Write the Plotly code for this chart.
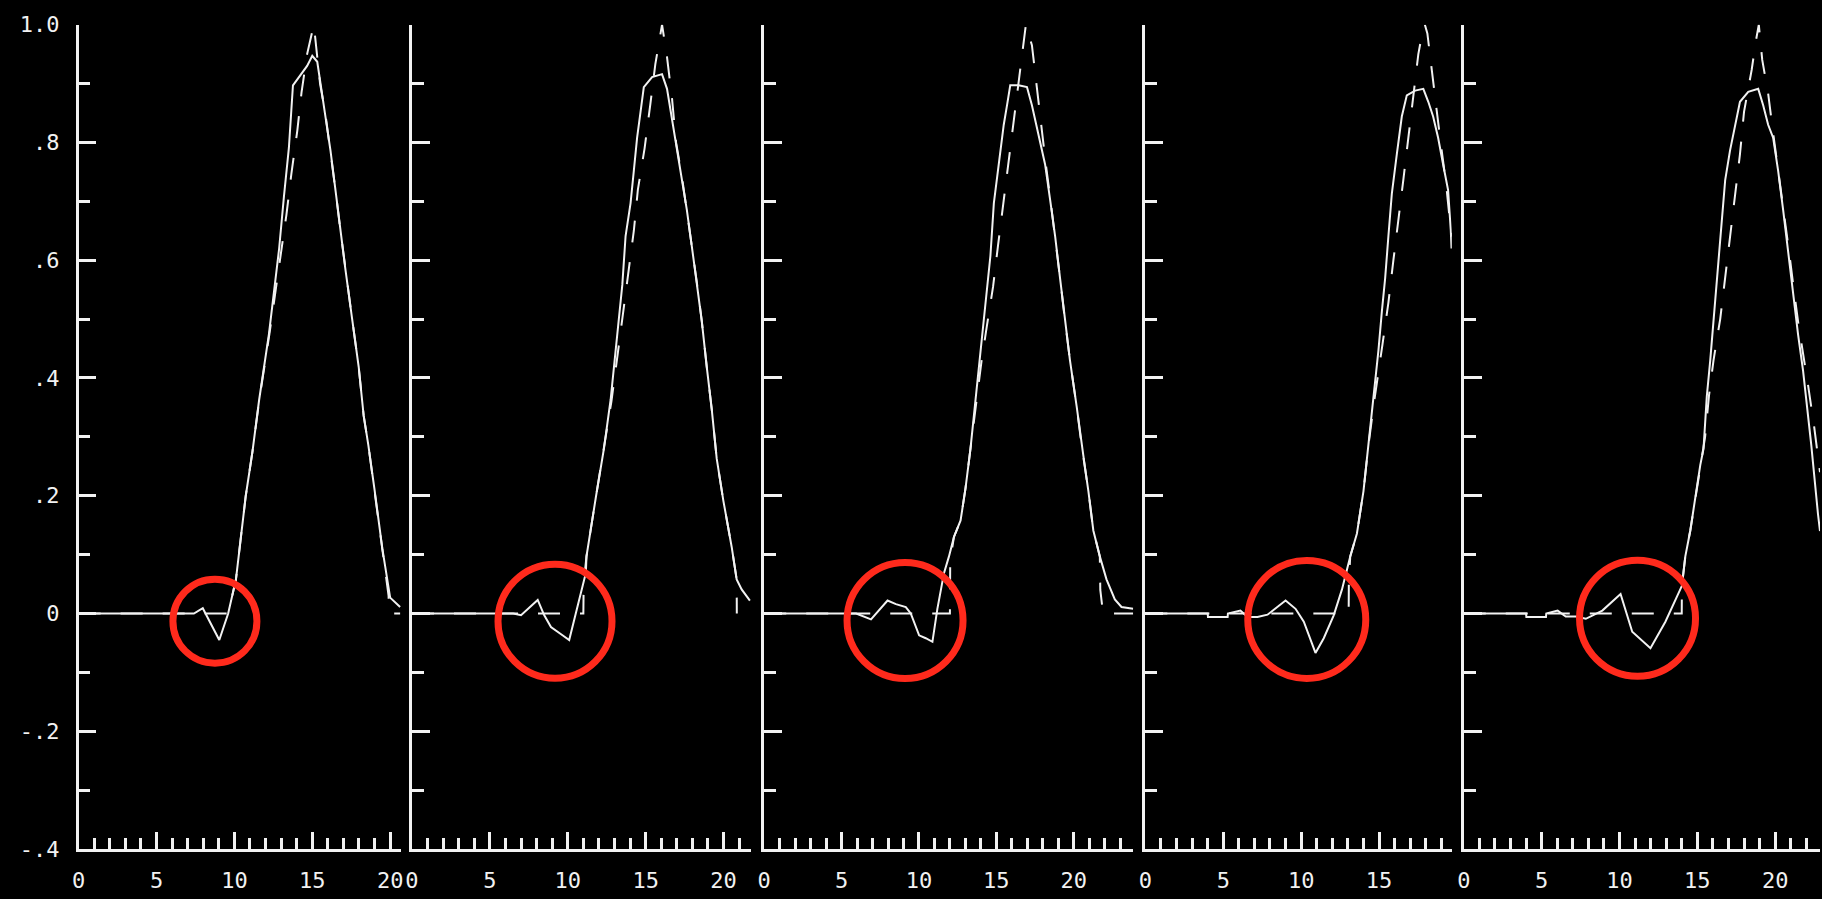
import plotly.graph_objects as go

# ---------------- data ----------------
x_tick_vals = [0, 5, 10, 15, 20]
x_tick_text = ["0", "5", "10", "15", "20"]
y_tick_vals = [1.0, 0.8, 0.6, 0.4, 0.2, 0.0, -0.2, -0.4]
y_tick_text = ["1.0", ".8", ".6", ".4", ".2", "0", "-.2", "-.4"]
x_extent = [20.70, 21.78, 23.86, 19.67, 22.88]

p1_solid_x = [0, 7.0, 7.4, 7.97, 9.03, 9.6, 10.1, 10.42, 10.73, 11.16, 11.59, 12.22, 12.55, 12.87, 13.18,
              13.5, 13.76, 14.14, 14.67, 15.0, 15.32, 15.53, 15.85, 16.17, 16.49, 16.8, 17.12, 17.55,
              17.98, 18.3, 18.6, 19.0, 19.5, 20.0, 20.64]
p1_solid_y = [0, 0, 0.0, 0.009, -0.045, 0.0, 0.058, 0.13, 0.20, 0.275, 0.363, 0.475, 0.547, 0.619, 0.708,
              0.791, 0.897, 0.911, 0.93, 0.947, 0.937, 0.9, 0.847, 0.786, 0.719, 0.652, 0.586, 0.502,
              0.419, 0.336, 0.286, 0.21, 0.11, 0.027, 0.011]
p1_ref_x = [0, 9.6, 10.1, 10.42, 10.73, 11.16, 11.6, 12.25, 12.7, 13.0, 13.34, 13.66, 14.04, 14.31, 14.67,
            15.1, 15.25, 15.5, 15.85, 16.17, 16.49, 16.8, 17.12, 17.55, 17.98, 18.3, 18.6, 19.0, 19.5,
            19.9, 19.92, 20.64]
p1_ref_y = [0, 0, 0.058, 0.13, 0.20, 0.275, 0.363, 0.475, 0.56, 0.62, 0.677, 0.747, 0.82, 0.885, 0.95,
            1.0, 0.96, 0.9, 0.847, 0.786, 0.719, 0.652, 0.586, 0.502, 0.419, 0.336, 0.286, 0.21, 0.11,
            0.03, 0.0, 0.0]

p2_solid_x = [0, 6.5, 7.0, 8.07, 8.49, 8.92, 9.66, 10.09, 11.16, 11.2, 11.8, 12.32, 12.75, 13.17, 13.5,
              13.71, 14.03, 14.24, 14.45, 14.67, 14.88, 15.41, 16.05, 16.37, 16.58, 16.9, 17.33, 17.64,
              17.96, 18.28, 18.6, 18.92, 19.24, 19.56, 19.99, 20.52, 20.84, 21.16, 21.69]
p2_solid_y = [0, 0, -0.003, 0.023, -0.003, -0.023, -0.037, -0.045, 0.069, 0.097, 0.197, 0.28, 0.363, 0.474,
              0.558, 0.641, 0.697, 0.752, 0.808, 0.852, 0.894, 0.911, 0.916, 0.891, 0.858, 0.808, 0.741,
              0.686, 0.624, 0.563, 0.497, 0.419, 0.347, 0.263, 0.191, 0.113, 0.058, 0.041, 0.022]
p2_ref_x = [0, 11.0, 11.02, 11.2, 11.8, 12.32, 12.8, 13.3, 13.92, 14.24, 14.5, 14.93, 15.3, 15.62, 16.05,
            16.37, 16.69, 16.95, 17.33, 17.64, 17.96, 18.28, 18.6, 18.92, 19.24, 19.56, 19.99, 20.52,
            20.84, 20.85]
p2_ref_y = [0, 0, 0.05, 0.097, 0.197, 0.28, 0.36, 0.46, 0.58, 0.65, 0.72, 0.79, 0.865, 0.933, 1.0,
            0.945, 0.875, 0.8, 0.741, 0.686, 0.624, 0.563, 0.497, 0.419, 0.347, 0.263, 0.191, 0.113,
            0.058, 0.0]

p3_solid_x = [0, 5.94, 6.9, 7.97, 8.51, 9.15, 9.47, 10.01, 10.44, 10.87, 11.19, 11.62, 11.94, 12.26,
              12.69, 13.01, 13.33, 13.65, 13.97, 14.3, 14.62, 14.84, 15.16, 15.48, 15.69, 15.9, 16.44,
              16.98, 17.3, 17.73, 18.15, 18.48, 18.8, 19.12, 19.44, 19.76, 20.19, 20.51, 20.62, 20.95,
              21.27, 21.69, 22.12, 22.66, 23.09, 23.84]
p3_solid_y = [0, 0, -0.01, 0.022, 0.016, 0.011, 0.0, -0.037, -0.042, -0.048, 0.008, 0.069, 0.097, 0.13,
              0.158, 0.213, 0.28, 0.363, 0.436, 0.53, 0.608, 0.697, 0.763, 0.83, 0.863, 0.897, 0.897,
              0.894, 0.863, 0.813, 0.763, 0.702, 0.641, 0.569, 0.497, 0.43, 0.352, 0.286, 0.269, 0.208,
              0.141, 0.097, 0.058, 0.024, 0.011, 0.008]
p3_ref_x = [0, 12.0, 12.02, 12.26, 12.69, 13.01, 13.33, 13.7, 14.05, 14.4, 14.79, 15.11, 15.44, 15.77,
            16.12, 16.44, 16.7, 16.91, 17.3, 17.56, 17.88, 18.2, 18.5, 18.8, 19.12, 19.44, 19.76, 20.19,
            20.51, 20.95, 21.27, 21.69, 21.72, 21.9, 23.84]
p3_ref_y = [0, 0, 0.09, 0.13, 0.158, 0.213, 0.28, 0.36, 0.43, 0.49, 0.555, 0.625, 0.694, 0.766,
            0.84, 0.91, 0.965, 1.0, 0.965, 0.904, 0.83, 0.763, 0.702, 0.641, 0.569, 0.497, 0.43, 0.352,
            0.286, 0.208, 0.141, 0.097, 0.04, 0.0, 0.0]

p4_solid_x = [0, 4.0, 4.02, 5.28, 5.3, 6.1, 6.56, 7.2, 7.84, 9.0, 9.64, 10.17, 10.92, 11.45, 12.09,
              12.62, 13.15, 13.58, 14.0, 14.32, 14.64, 14.96, 15.18, 15.39, 15.6, 15.82, 16.14, 16.46,
              16.78, 17.31, 17.84, 18.16, 18.47, 18.79, 19.11, 19.43, 19.6, 19.65]
p4_solid_y = [0, 0, -0.006, -0.006, 0, 0.005, -0.006, -0.006, -0.002, 0.022, 0.008, -0.014, -0.067,
              -0.042, -0.003, 0.041, 0.097, 0.136, 0.208, 0.286, 0.363, 0.447, 0.513, 0.569, 0.641,
              0.713, 0.78, 0.844, 0.88, 0.888, 0.891, 0.869, 0.844, 0.808, 0.763, 0.719, 0.652, 0.62]
p4_ref_x = [0, 13.05, 13.06, 13.15, 13.58, 14.0, 14.32, 14.7, 15.22, 15.6, 15.92, 16.24, 16.56, 16.88,
            17.2, 17.52, 17.8, 17.94, 18.1, 18.37, 18.69, 19.0, 19.3, 19.65]
p4_ref_y = [0, 0, 0.053, 0.097, 0.136, 0.208, 0.286, 0.363, 0.457, 0.528, 0.6, 0.666, 0.737, 0.808,
            0.88, 0.95, 0.99, 1.0, 0.985, 0.93, 0.856, 0.79, 0.73, 0.64]

p5_solid_x = [0, 4.0, 4.02, 5.28, 5.3, 6.03, 6.55, 7.2, 7.84, 8.9, 10.07, 10.82, 11.99, 12.95, 14.01,
              14.23, 14.55, 14.87, 15.19, 15.4, 15.61, 15.83, 16.15, 16.36, 16.57, 16.79, 17.1, 17.43,
              17.74, 18.27, 18.91, 19.23, 19.55, 19.87, 20.19, 20.51, 20.83, 21.15, 21.47, 21.79, 22.11,
              22.32, 22.75, 22.88]
p5_solid_y = [0, 0, -0.006, -0.006, 0, 0.005, -0.005, -0.005, -0.009, 0.005, 0.033, -0.031, -0.059,
              -0.014, 0.047, 0.097, 0.141, 0.197, 0.252, 0.28, 0.369, 0.43, 0.53, 0.608, 0.663, 0.736,
              0.786, 0.83, 0.869, 0.886, 0.891, 0.863, 0.83, 0.808, 0.752, 0.686, 0.613, 0.541, 0.474,
              0.413, 0.341, 0.286, 0.169, 0.14]
p5_ref_x = [0, 14.0, 14.01, 14.23, 14.55, 14.87, 15.19, 15.5, 15.75, 16.04, 16.47, 16.79, 17.1, 17.42,
            17.74, 18.0, 18.49, 18.78, 18.95, 19.17, 19.55, 19.87, 20.2, 20.55, 20.9, 21.2, 21.5, 22.1,
            22.5, 22.88]
p5_ref_y = [0, 0, 0.047, 0.097, 0.141, 0.197, 0.252, 0.3, 0.37, 0.43, 0.5, 0.573, 0.642, 0.71, 0.78,
            0.852, 0.923, 0.975, 1.0, 0.94, 0.883, 0.816, 0.752, 0.686, 0.613, 0.55, 0.49, 0.39, 0.318,
            0.24]

# highlighted regions (red circles), data coordinates of centres
circle_x = [8.75, 9.18, 9.1, 10.36, 11.16]
circle_y = [-0.013, -0.013, -0.012, -0.01, -0.008]

solids = [(p1_solid_x, p1_solid_y), (p2_solid_x, p2_solid_y), (p3_solid_x, p3_solid_y),
          (p4_solid_x, p4_solid_y), (p5_solid_x, p5_solid_y)]
refs = [(p1_ref_x, p1_ref_y), (p2_ref_x, p2_ref_y), (p3_ref_x, p3_ref_y),
        (p4_ref_x, p4_ref_y), (p5_ref_x, p5_ref_y)]

# ---------------- layout geometry ----------------
W, H = 1822, 899
panel_px = [(72, 396), (407, 748), (761, 1132), (1144, 1452), (1464, 1822)]
y_top_px, y_bot_px = 13, 861
circle_r = [42, 57, 58, 59, 58]

WHITE = "#f2f2f2"
RED = "rgb(255,42,28)"
FONT = dict(family="DejaVu Sans Mono", size=22, color=WHITE)

fig = go.Figure()
layout = dict(width=W, height=H, margin=dict(l=0, r=0, t=0, b=0),
              paper_bgcolor="black", plot_bgcolor="black", showlegend=False)
shapes = []

for i in range(5):
    n = "" if i == 0 else str(i + 1)
    xa, ya = "x" + n, "y" + n
    sx, sy = solids[i]
    rx, ry = refs[i]
    fig.add_trace(go.Scatter(x=rx, y=ry, xaxis=xa, yaxis=ya, mode="lines",
                             line=dict(color=WHITE, width=2, dash="22px,20px"), hoverinfo="skip"))
    fig.add_trace(go.Scatter(x=sx, y=sy, xaxis=xa, yaxis=ya, mode="lines",
                             line=dict(color=WHITE, width=2), hoverinfo="skip"))
    l, r = panel_px[i]
    layout["xaxis" + n] = dict(
        domain=[l / W, r / W], range=[0, x_extent[i]], anchor=ya,
        showline=True, linecolor=WHITE, linewidth=2.5, showgrid=False, zeroline=False,
        ticks="inside", tickvals=x_tick_vals, ticktext=x_tick_text, ticklen=17, tickwidth=2.5,
        tickcolor=WHITE, tickfont=FONT, ticklabelstandoff=10,
        minor=dict(dtick=1, tick0=0, ticks="inside", ticklen=11, tickwidth=2.5, tickcolor=WHITE,
                   showgrid=False),
    )
    layout["yaxis" + n] = dict(
        domain=[(H - y_bot_px) / H, (H - y_top_px) / H], range=[-0.4, 1.0], anchor=xa,
        showline=True, linecolor=WHITE, linewidth=2.5, showgrid=False, zeroline=False,
        ticks="inside", tickvals=y_tick_vals, ticktext=y_tick_text, ticklen=18, tickwidth=2.5,
        tickcolor=WHITE, tickfont=FONT, showticklabels=(i == 0), ticklabelstandoff=12,
        minor=dict(dtick=0.1, tick0=0, ticks="inside", ticklen=12, tickwidth=2.5, tickcolor=WHITE,
                   showgrid=False),
    )
    rr = circle_r[i]
    shapes.append(dict(type="circle", xref=xa, yref=ya, xsizemode="pixel", ysizemode="pixel",
                       xanchor=circle_x[i], yanchor=circle_y[i], x0=-rr, x1=rr, y0=-rr, y1=rr,
                       line=dict(color=RED, width=7), layer="above"))

layout["shapes"] = shapes
# panel 4's last label sits past the end of its axis
layout["annotations"] = [dict(x=20, y=-0.4, xref="x4", yref="y4", text="20", showarrow=False,
                              font=FONT, yanchor="top", yshift=-10)]
fig.update_layout(**layout)

fig.write_html("out.html", config={"displayModeBar": False},
               post_script="document.body.style.margin='0';document.body.style.background='black';"
                           "document.body.style.overflow='hidden';")
